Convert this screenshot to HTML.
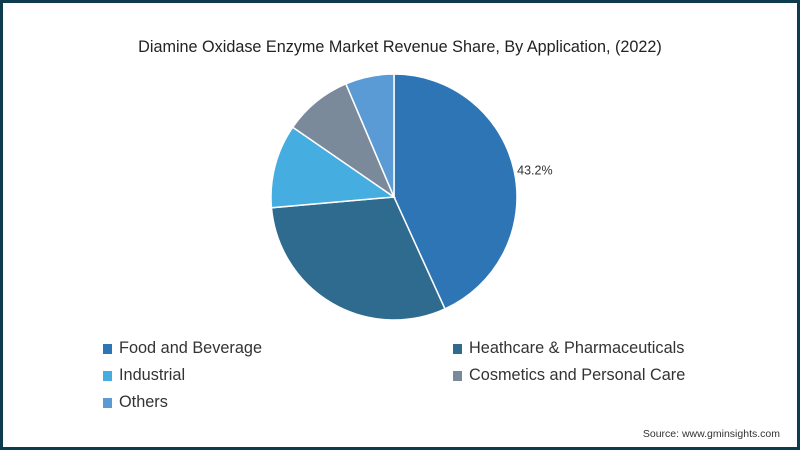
<!DOCTYPE html>
<html><head><meta charset="utf-8"><style>
html,body{margin:0;padding:0;width:800px;height:450px;overflow:hidden;background:#0f3b4e;}
#frame{position:absolute;left:3px;top:3px;width:794px;height:444px;background:#fff;font-family:"Liberation Sans",sans-serif;}
#title{position:absolute;left:0;width:794px;top:35px;text-align:center;font-size:16.2px;color:#222;}
.leg{position:absolute;font-size:16.3px;color:#333;display:flex;align-items:center;}
.sw{width:9px;height:10px;margin-right:7px;}
#src{position:absolute;right:17px;top:425px;font-size:10.5px;color:#333;}
</style></head><body>
<div id="frame">
<div id="title">Diamine Oxidase Enzyme Market Revenue Share, By Application, (2022)</div>
<svg id="pie" width="794" height="450" style="position:absolute;left:-3px;top:-3px"></svg>
<div class="leg" style="left:100px;top:336px"><span class="sw" style="background:#2e75b6"></span>Food and Beverage</div>
<div class="leg" style="left:450px;top:336px"><span class="sw" style="background:#2f6b8f"></span>Heathcare &amp; Pharmaceuticals</div>
<div class="leg" style="left:100px;top:363px"><span class="sw" style="background:#45ade0"></span>Industrial</div>
<div class="leg" style="left:450px;top:363px"><span class="sw" style="background:#7b8a9b"></span>Cosmetics and Personal Care</div>
<div class="leg" style="left:100px;top:390px"><span class="sw" style="background:#5b9bd5"></span>Others</div>
<div id="src">Source: www.gminsights.com</div>
</div>
<script>
const categories=["Food and Beverage","Heathcare & Pharmaceuticals","Industrial","Cosmetics and Personal Care","Others"];
const values=[43.2,30.4,11.0,9.0,6.4];
const labels=["43.2%",null,null,null,null];
const colors=["#2e75b6","#2f6b8f","#45ade0","#7b8a9b","#5b9bd5"];
const svg=document.getElementById('pie');
const ns="http://www.w3.org/2000/svg";
const cx=394,cy=197,r=123;
const total=values.reduce((a,b)=>a+b,0);
function pt(a,rr){return [cx+rr*Math.sin(a),cy-rr*Math.cos(a)];}
let a0=0;
values.forEach((v,i)=>{
  const a1=a0+v/total*2*Math.PI;
  const p0=pt(a0,r),p1=pt(a1,r);
  const large=(a1-a0)>Math.PI?1:0;
  const p=document.createElementNS(ns,'path');
  p.setAttribute('d',`M${cx},${cy}L${p0[0]},${p0[1]}A${r},${r} 0 ${large} 1 ${p1[0]},${p1[1]}Z`);
  p.setAttribute('fill',colors[i]);
  p.setAttribute('stroke','#fff');
  p.setAttribute('stroke-width','1.5');
  
  
  svg.appendChild(p);
  if(labels[i]){
    const m=(a0+a1)/2;const lp=pt(m,r+3);
    const t=document.createElementNS(ns,'text');
    t.setAttribute('x',lp[0]);t.setAttribute('y',lp[1]+4);
    t.setAttribute('font-size','12.5');t.setAttribute('fill','#333');
    t.setAttribute('font-family','Liberation Sans, sans-serif');
    t.textContent=labels[i];
    
    
    svg.appendChild(t);
  }
  a0=a1;
});
</script>
</body></html>
